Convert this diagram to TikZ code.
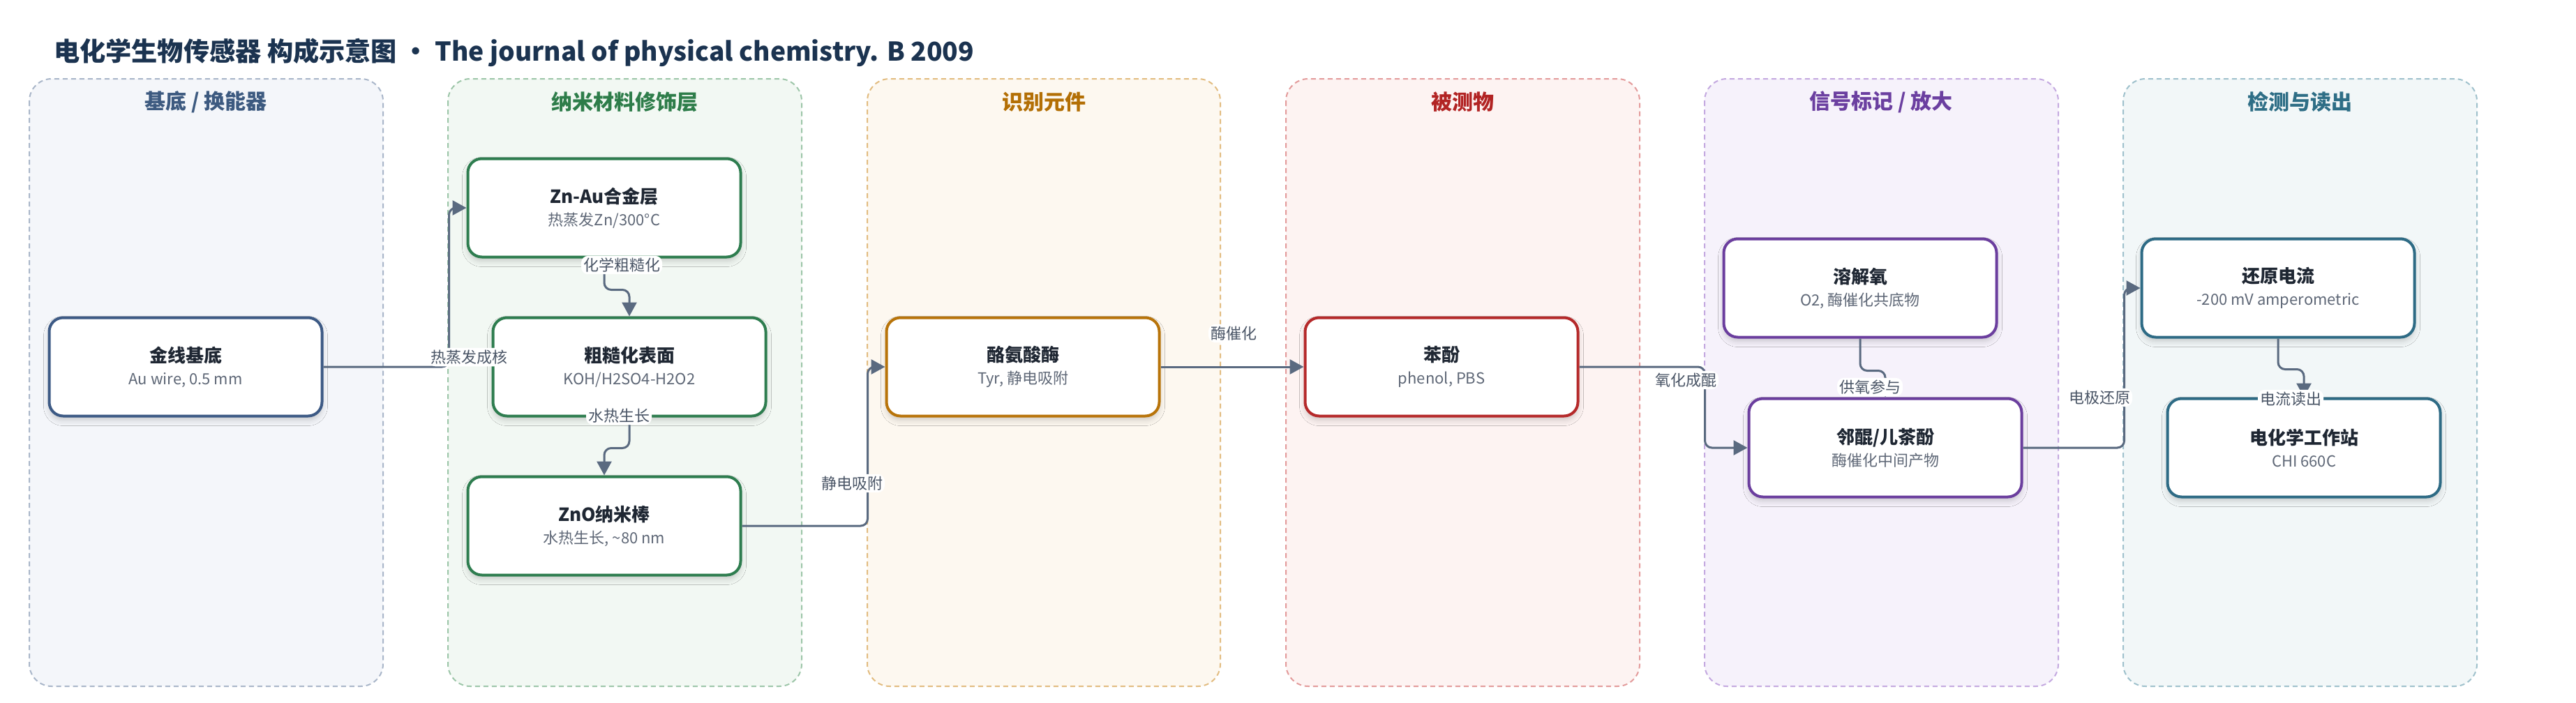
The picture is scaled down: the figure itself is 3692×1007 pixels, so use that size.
\documentclass[tikz,border=0pt]{standalone}
\usepackage{fontspec}
\setmainfont{Noto Sans CJK SC}
\usetikzlibrary{arrows.meta,shadows.blur}

\definecolor{titlec}{HTML}{1B3350}
\definecolor{edgec}{HTML}{5A6A80}
\definecolor{lblc}{HTML}{4A5566}
\definecolor{subc}{HTML}{5F6877}
\definecolor{namec}{HTML}{1F2733}
% lane colours: fill / dashed border / heading / box border
\definecolor{fA}{HTML}{F4F6FA}\definecolor{bA}{HTML}{A9B6C9}\definecolor{tA}{HTML}{3D5A80}\definecolor{nA}{HTML}{3D5A85}
\definecolor{fB}{HTML}{F2F8F3}\definecolor{bB}{HTML}{9DC6A9}\definecolor{tB}{HTML}{2E7D4A}\definecolor{nB}{HTML}{2E7D4F}
\definecolor{fC}{HTML}{FDF8F0}\definecolor{bC}{HTML}{E2BC80}\definecolor{tC}{HTML}{B36F05}\definecolor{nC}{HTML}{B8740A}
\definecolor{fD}{HTML}{FDF3F2}\definecolor{bD}{HTML}{E39B9B}\definecolor{tD}{HTML}{B22424}\definecolor{nD}{HTML}{B5292A}
\definecolor{fE}{HTML}{F6F2FB}\definecolor{bE}{HTML}{C4A9E0}\definecolor{tE}{HTML}{6B3FA0}\definecolor{nE}{HTML}{6B3E9E}
\definecolor{fF}{HTML}{F2F7F8}\definecolor{bF}{HTML}{9FC1CC}\definecolor{tF}{HTML}{2E6E86}\definecolor{nF}{HTML}{2E6B85}

\tikzset{
  lane/.style={draw=b#1, fill=f#1, line width=1pt, dash pattern=on 3.5pt off 2.5pt, rounded corners=16pt},
  lanehead/.style={text=t#1, font=\fontsize{15pt}{18pt}\selectfont\bfseries},
  box/.style={draw=#1, fill=white, line width=2pt, rounded corners=10pt,
    minimum width=195.5pt, minimum height=70.5pt, align=center, inner sep=0pt, text=namec,
    blur shadow={shadow xshift=0pt, shadow yshift=-3pt, shadow blur radius=4pt, shadow opacity=18}},
  flow/.style={draw=edgec, line width=1.5pt, rounded corners=5pt, -{Triangle[length=10pt,width=10.5pt]}},
  lbl/.style={fill=white, text=lblc, font=\fontsize{11pt}{13pt}\selectfont, inner sep=1.5pt}
}
\newcommand{\nm}[1]{{\fontsize{13pt}{16pt}\selectfont\bfseries #1}}
\newcommand{\sub}[1]{{\fontsize{11pt}{13pt}\selectfont\color{subc}#1}}

\begin{document}
\begin{tikzpicture}[x=0.5pt,y=-0.5pt]
\useasboundingbox[fill=white] (0,0) rectangle (3692,1007);

\node[anchor=west, text=titlec, font=\fontsize{18.6pt}{22pt}\selectfont\bfseries] (title) at (70,75)
  {电化学生物传感器 构成示意图 • The journal of physical chemistry. B 2009};

% lanes
\draw[lane=A] (42,113) rectangle (549,984);
\draw[lane=B] (642,113) rectangle (1149,984);
\draw[lane=C] (1243,113) rectangle (1749,984);
\draw[lane=D] (1843,113) rectangle (2350,984);
\draw[lane=E] (2443,113) rectangle (2950,984);
\draw[lane=F] (3043,113) rectangle (3550,984);
\node[lanehead=A] (hA) at (295,146) {基底 / 换能器};
\node[lanehead=B] (hB) at (895,146) {纳米材料修饰层};
\node[lanehead=C] (hC) at (1496,146) {识别元件};
\node[lanehead=D] (hD) at (2096,146) {被测物};
\node[lanehead=E] (hE) at (2696,146) {信号标记 / 放大};
\node[lanehead=F] (hF) at (3296,146) {检测与读出};

% components
\node[box=nA] (wire) at (266,526) {\nm{金线基底}\\[4pt]\sub{Au wire, 0.5 mm}};
\node[box=nB] (znau) at (866,298) {\nm{Zn-Au合金层}\\[4pt]\sub{热蒸发Zn/300°C}};
\node[box=nB] (rough) at (902,526) {\nm{粗糙化表面}\\[4pt]\sub{KOH/H2SO4-H2O2}};
\node[box=nB] (zno) at (866,754) {\nm{ZnO纳米棒}\\[4pt]\sub{水热生长, \textasciitilde80 nm}};
\node[box=nC] (tyr) at (1466,526) {\nm{酪氨酸酶}\\[4pt]\sub{Tyr, 静电吸附}};
\node[box=nD] (phenol) at (2066,526) {\nm{苯酚}\\[4pt]\sub{phenol, PBS}};
\node[box=nE] (oxy) at (2666,413) {\nm{溶解氧}\\[4pt]\sub{O2, 酶催化共底物}};
\node[box=nE] (quin) at (2702,642) {\nm{邻醌/儿茶酚}\\[4pt]\sub{酶催化中间产物}};
\node[box=nF] (cur) at (3265,413) {\nm{还原电流}\\[4pt]\sub{-200 mV amperometric}};
\node[box=nF] (stat) at (3302,642) {\nm{电化学工作站}\\[4pt]\sub{CHI 660C}};

% connectors
\draw[flow] (wire.east) -- ++(180,0) |- (znau.west) node[lbl] (l1) at (672,512) {热蒸发成核};
\draw[flow] (znau.south) -- ++(0,45) -| (rough.north) node[lbl] (l2) at (891,380) {化学粗糙化};
\draw[flow] (rough.south) -- ++(0,44) -| (zno.north) node[lbl] (l3) at (887,596) {水热生长};
\draw[flow] (zno.east) -- ++(180,0) |- (tyr.west) node[lbl] (l4) at (1221,693) {静电吸附};
\draw[flow] (tyr.east) -- (phenol.west) node[lbl] (l5) at (1768,478) {酶催化};
\draw[flow] (phenol.east) -- ++(180,0) |- (quin.west) node[lbl] (l6) at (2416,545) {氧化成醌};
\draw[flow] (oxy.south) -- ++(0,46) -| (quin.north) node[lbl] (l7) at (2680,555) {供氧参与};
\draw[flow] (quin.east) -- ++(145,0) |- (cur.west) node[lbl] (l8) at (3009,570) {电极还原};
\draw[flow] (cur.south) -- ++(0,44) -| (stat.north) node[lbl] (l9) at (3283,572) {电流读出};

\end{tikzpicture}
\end{document}
